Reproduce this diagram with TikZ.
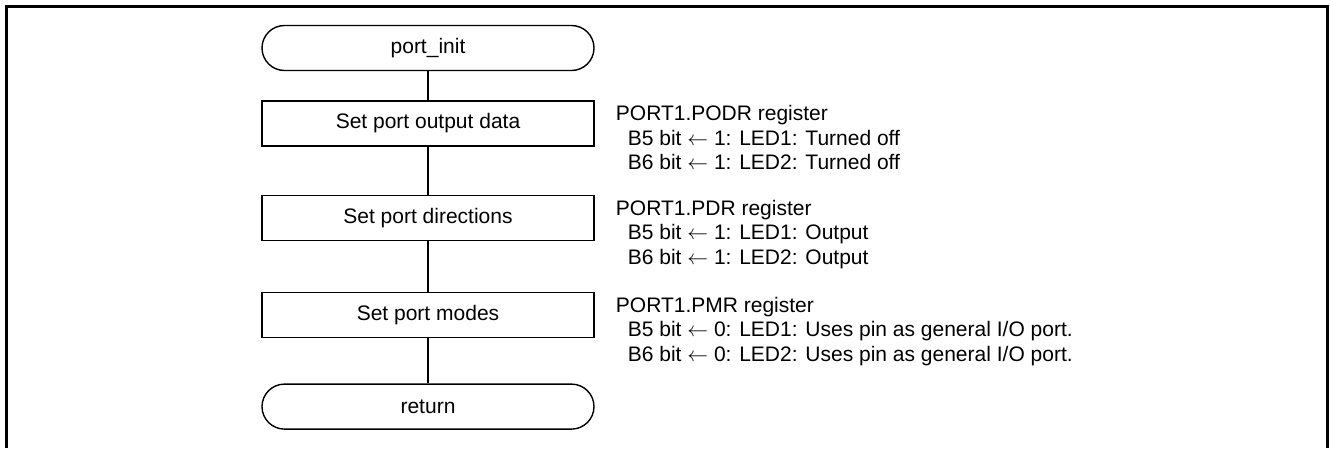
\documentclass[tikz,border=0pt]{standalone}
\usepackage{fontspec}
\setmainfont{Liberation Sans}
\usetikzlibrary{positioning,calc}

\begin{document}
\begin{tikzpicture}[x=1pt,y=1pt]
  \useasboundingbox (0,0) rectangle (1330,-448);
  % frame, its bottom edge lies outside the page
  \draw[line width=3pt] (6.5,-448) -- (6.5,-6) -- (1327.5,-6) -- (1327.5,-448);
  \begin{scope}[
    every node/.style={
      draw,
      line width=1.4pt,
      align=center,
      anchor=center,
      font=\fontsize{21}{25}\selectfont,
      minimum width=332pt,
      minimum height=45pt,
      inner sep=0pt,
    },
    ]
    \node[rounded corners=22.5pt] (portinit) at (428,-48) {port\_init};
    \node[below=29pt of portinit]  (setdata) {Set port output data};
    \node[below=48pt of setdata]   (setdir)  {Set port directions};
    \node[below=51pt of setdir]    (setmode) {Set port modes};
    \node[below=45pt of setmode,rounded corners=22.5pt] (return) {return};
  \end{scope}
  \begin{scope}[
    every node/.style={
      align=left,
      anchor=north west,
      inner sep=0pt,
      font=\fontsize{21}{24.5}\selectfont,
    },
    ]
    \node (podr) at ($(setdata.north east)+(21,-5)$)
      {PORT1.PODR register\\
       \hspace*{12pt}B5 bit $\leftarrow$ 1: LED1: Turned off\\
       \hspace*{12pt}B6 bit $\leftarrow$ 1: LED2: Turned off};
    \node (pdr) at ($(setdir.north east)+(21,-5)$)
      {PORT1.PDR register\\
       \hspace*{12pt}B5 bit $\leftarrow$ 1: LED1: Output\\
       \hspace*{12pt}B6 bit $\leftarrow$ 1: LED2: Output};
    \node (pmr) at ($(setmode.north east)+(21,-5)$)
      {PORT1.PMR register\\
       \hspace*{12pt}B5 bit $\leftarrow$ 0: LED1: Uses pin as general I/O port.\\
       \hspace*{12pt}B6 bit $\leftarrow$ 0: LED2: Uses pin as general I/O port.};
  \end{scope}
  \begin{scope}[
    every path/.style={draw,line width=1.4pt},
    ]
    \path
    (portinit) edge (setdata)
    (setdata)  edge (setdir)
    (setdir)   edge (setmode)
    (setmode)  edge (return);
  \end{scope}
\end{tikzpicture}
\end{document}
